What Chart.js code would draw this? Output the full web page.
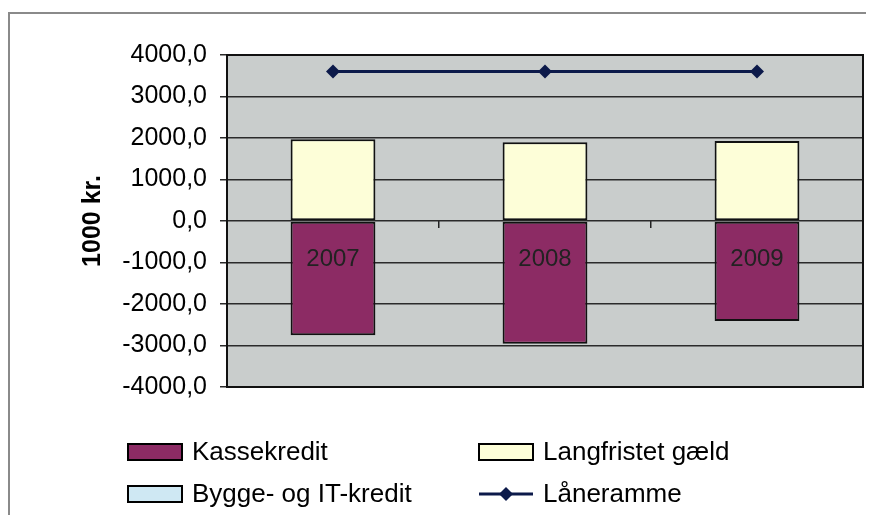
<!DOCTYPE html>
<html>
<head>
<meta charset="utf-8">
<script src="https://cdn.jsdelivr.net/npm/chart.js@4.4.0/dist/chart.umd.min.js"></script>
<style>
  html, body { margin: 0; padding: 0; background: #fff; }
  #wrap { width: 870px; height: 515px; position: relative; }
</style>
</head>
<body>
<div id="wrap"><canvas id="myChart" width="870" height="515"></canvas></div>
<script>
const years = ['2007', '2008', '2009'];
const kassekredit = [-2750, -2960, -2410];
const langfristet = [1970, 1900, 1930];
const byggeIT = [0, 0, 0];
const laneramme = [3600, 3600, 3600];
const yTicks = [-4000, -3000, -2000, -1000, 0, 1000, 2000, 3000, 4000];

const FONT = "'Liberation Sans', Arial, sans-serif";

// plot background, frame and border
const plotFrame = {
    id: 'plotFrame',
    beforeDraw(chart) {
        const { ctx, chartArea: a } = chart;
        ctx.save();
        ctx.fillStyle = '#c9cdcc';
        ctx.fillRect(a.left, a.top, a.right - a.left, a.bottom - a.top);
        ctx.strokeStyle = '#8a8a8a';
        ctx.lineWidth = 2;
        ctx.beginPath();
        ctx.moveTo(9, 515);
        ctx.lineTo(9, 13);
        ctx.lineTo(866, 13);
        ctx.stroke();
        ctx.restore();
    },
    afterDraw(chart) {
        const { ctx, chartArea: a } = chart;
        ctx.save();
        ctx.strokeStyle = '#111';
        ctx.lineWidth = 2;
        ctx.strokeRect(a.left, a.top, a.right - a.left, a.bottom - a.top);
        ctx.restore();
    }
};

// category labels sit just below the zero line, over the bars (Excel style)
const zeroLabels = {
    id: 'zeroLabels',
    afterDatasetsDraw(chart) {
        const { ctx, scales: { x, y } } = chart;
        const y0 = y.getPixelForValue(0);
        ctx.save();
        ctx.font = '24px ' + FONT;
        ctx.fillStyle = '#222';
        ctx.textAlign = 'center';
        ctx.textBaseline = 'middle';
        years.forEach((lab, i) => {
            ctx.fillText(lab, x.getPixelForValue(i), y0 + 38);
        });
        ctx.restore();
    }
};

// two-column legend under the plot
const gridLegend = {
    id: 'gridLegend',
    afterDraw(chart) {
        const { ctx } = chart;
        const cols = [128, 479];
        const rows = [452, 494];
        ctx.save();
        ctx.font = '26px ' + FONT;
        ctx.textBaseline = 'middle';
        chart.data.datasets.forEach((ds, i) => {
            const x = cols[i % 2];
            const y = rows[Math.floor(i / 2)];
            if (ds.type === 'line') {
                ctx.strokeStyle = ds.borderColor;
                ctx.lineWidth = 3;
                ctx.beginPath();
                ctx.moveTo(x, y);
                ctx.lineTo(x + 54, y);
                ctx.stroke();
                ctx.fillStyle = ds.borderColor;
                ctx.beginPath();
                ctx.moveTo(x + 27, y - 7);
                ctx.lineTo(x + 34, y);
                ctx.lineTo(x + 27, y + 7);
                ctx.lineTo(x + 20, y);
                ctx.closePath();
                ctx.fill();
            } else {
                ctx.fillStyle = ds.backgroundColor;
                ctx.fillRect(x, y - 8, 54, 16);
                ctx.strokeStyle = '#000';
                ctx.lineWidth = 2;
                ctx.strokeRect(x, y - 8, 54, 16);
            }
            ctx.fillStyle = '#000';
            ctx.fillText(ds.label, x + 64, y + 1);
        });
        ctx.restore();
    }
};

const ctx = document.getElementById('myChart');
const myChart = new Chart(ctx, {
    type: 'bar',
    data: {
        labels: years,
        datasets: [
            {
                label: 'Kassekredit',
                data: kassekredit,
                backgroundColor: '#8c2b64',
                borderColor: '#111',
                borderWidth: 2,
                borderSkipped: false,
                stack: 'debt',
            },
            {
                label: 'Langfristet gæld',
                data: langfristet,
                backgroundColor: '#fdfed8',
                borderColor: '#111',
                borderWidth: 2,
                borderSkipped: false,
                stack: 'debt',
            },
            {
                label: 'Bygge- og IT-kredit',
                data: byggeIT,
                backgroundColor: '#cfe8f3',
                borderColor: '#111',
                borderWidth: 0,
                borderSkipped: false,
                stack: 'debt',
            },
            {
                type: 'line',
                label: 'Låneramme',
                data: laneramme,
                borderColor: '#0c1a4a',
                backgroundColor: '#0c1a4a',
                borderWidth: 3,
                pointStyle: 'rectRot',
                pointRadius: 7,
                pointBackgroundColor: '#0c1a4a',
                pointBorderWidth: 0,
                stack: 'limit',
            },
        ],
    },
    options: {
        responsive: false,
        animation: false,
        devicePixelRatio: 1,
        layout: {
            padding: { left: 60, top: 55, right: 7, bottom: 128 },
        },
        plugins: {
            legend: { display: false },
            title: { display: false },
            tooltip: { enabled: false },
        },
        datasets: {
            bar: { categoryPercentage: 1, barPercentage: 0.4 },
        },
        scales: {
            x: {
                stacked: true,
                position: { y: 0 },
                grid: {
                    offset: true,
                    drawOnChartArea: false,
                    drawTicks: true,
                    tickLength: 7,
                    color: '#222',
                    lineWidth: 1.5,
                },
                border: { display: false },
                ticks: { display: false },
            },
            y: {
                stacked: true,
                min: -4000,
                max: 4000,
                afterFit(scale) { scale.width = 167; },
                afterBuildTicks(scale) { scale.ticks = yTicks.map(v => ({ value: v })); },
                grid: {
                    color: '#2a2a2a',
                    lineWidth: 1.5,
                    tickLength: 7,
                },
                border: { display: true, color: '#111', width: 2 },
                ticks: {
                    color: '#000',
                    padding: 13,
                    font: { family: FONT, size: 25 },
                    callback: v => v.toFixed(1).replace('.', ','),
                },
                title: {
                    display: true,
                    text: '1000 kr.',
                    color: '#000',
                    padding: { top: 18, bottom: 0 },
                    font: { family: FONT, size: 25, weight: 'bold' },
                },
            },
        },
    },
    plugins: [plotFrame, zeroLabels, gridLegend],
});
</script>
</body>
</html>
